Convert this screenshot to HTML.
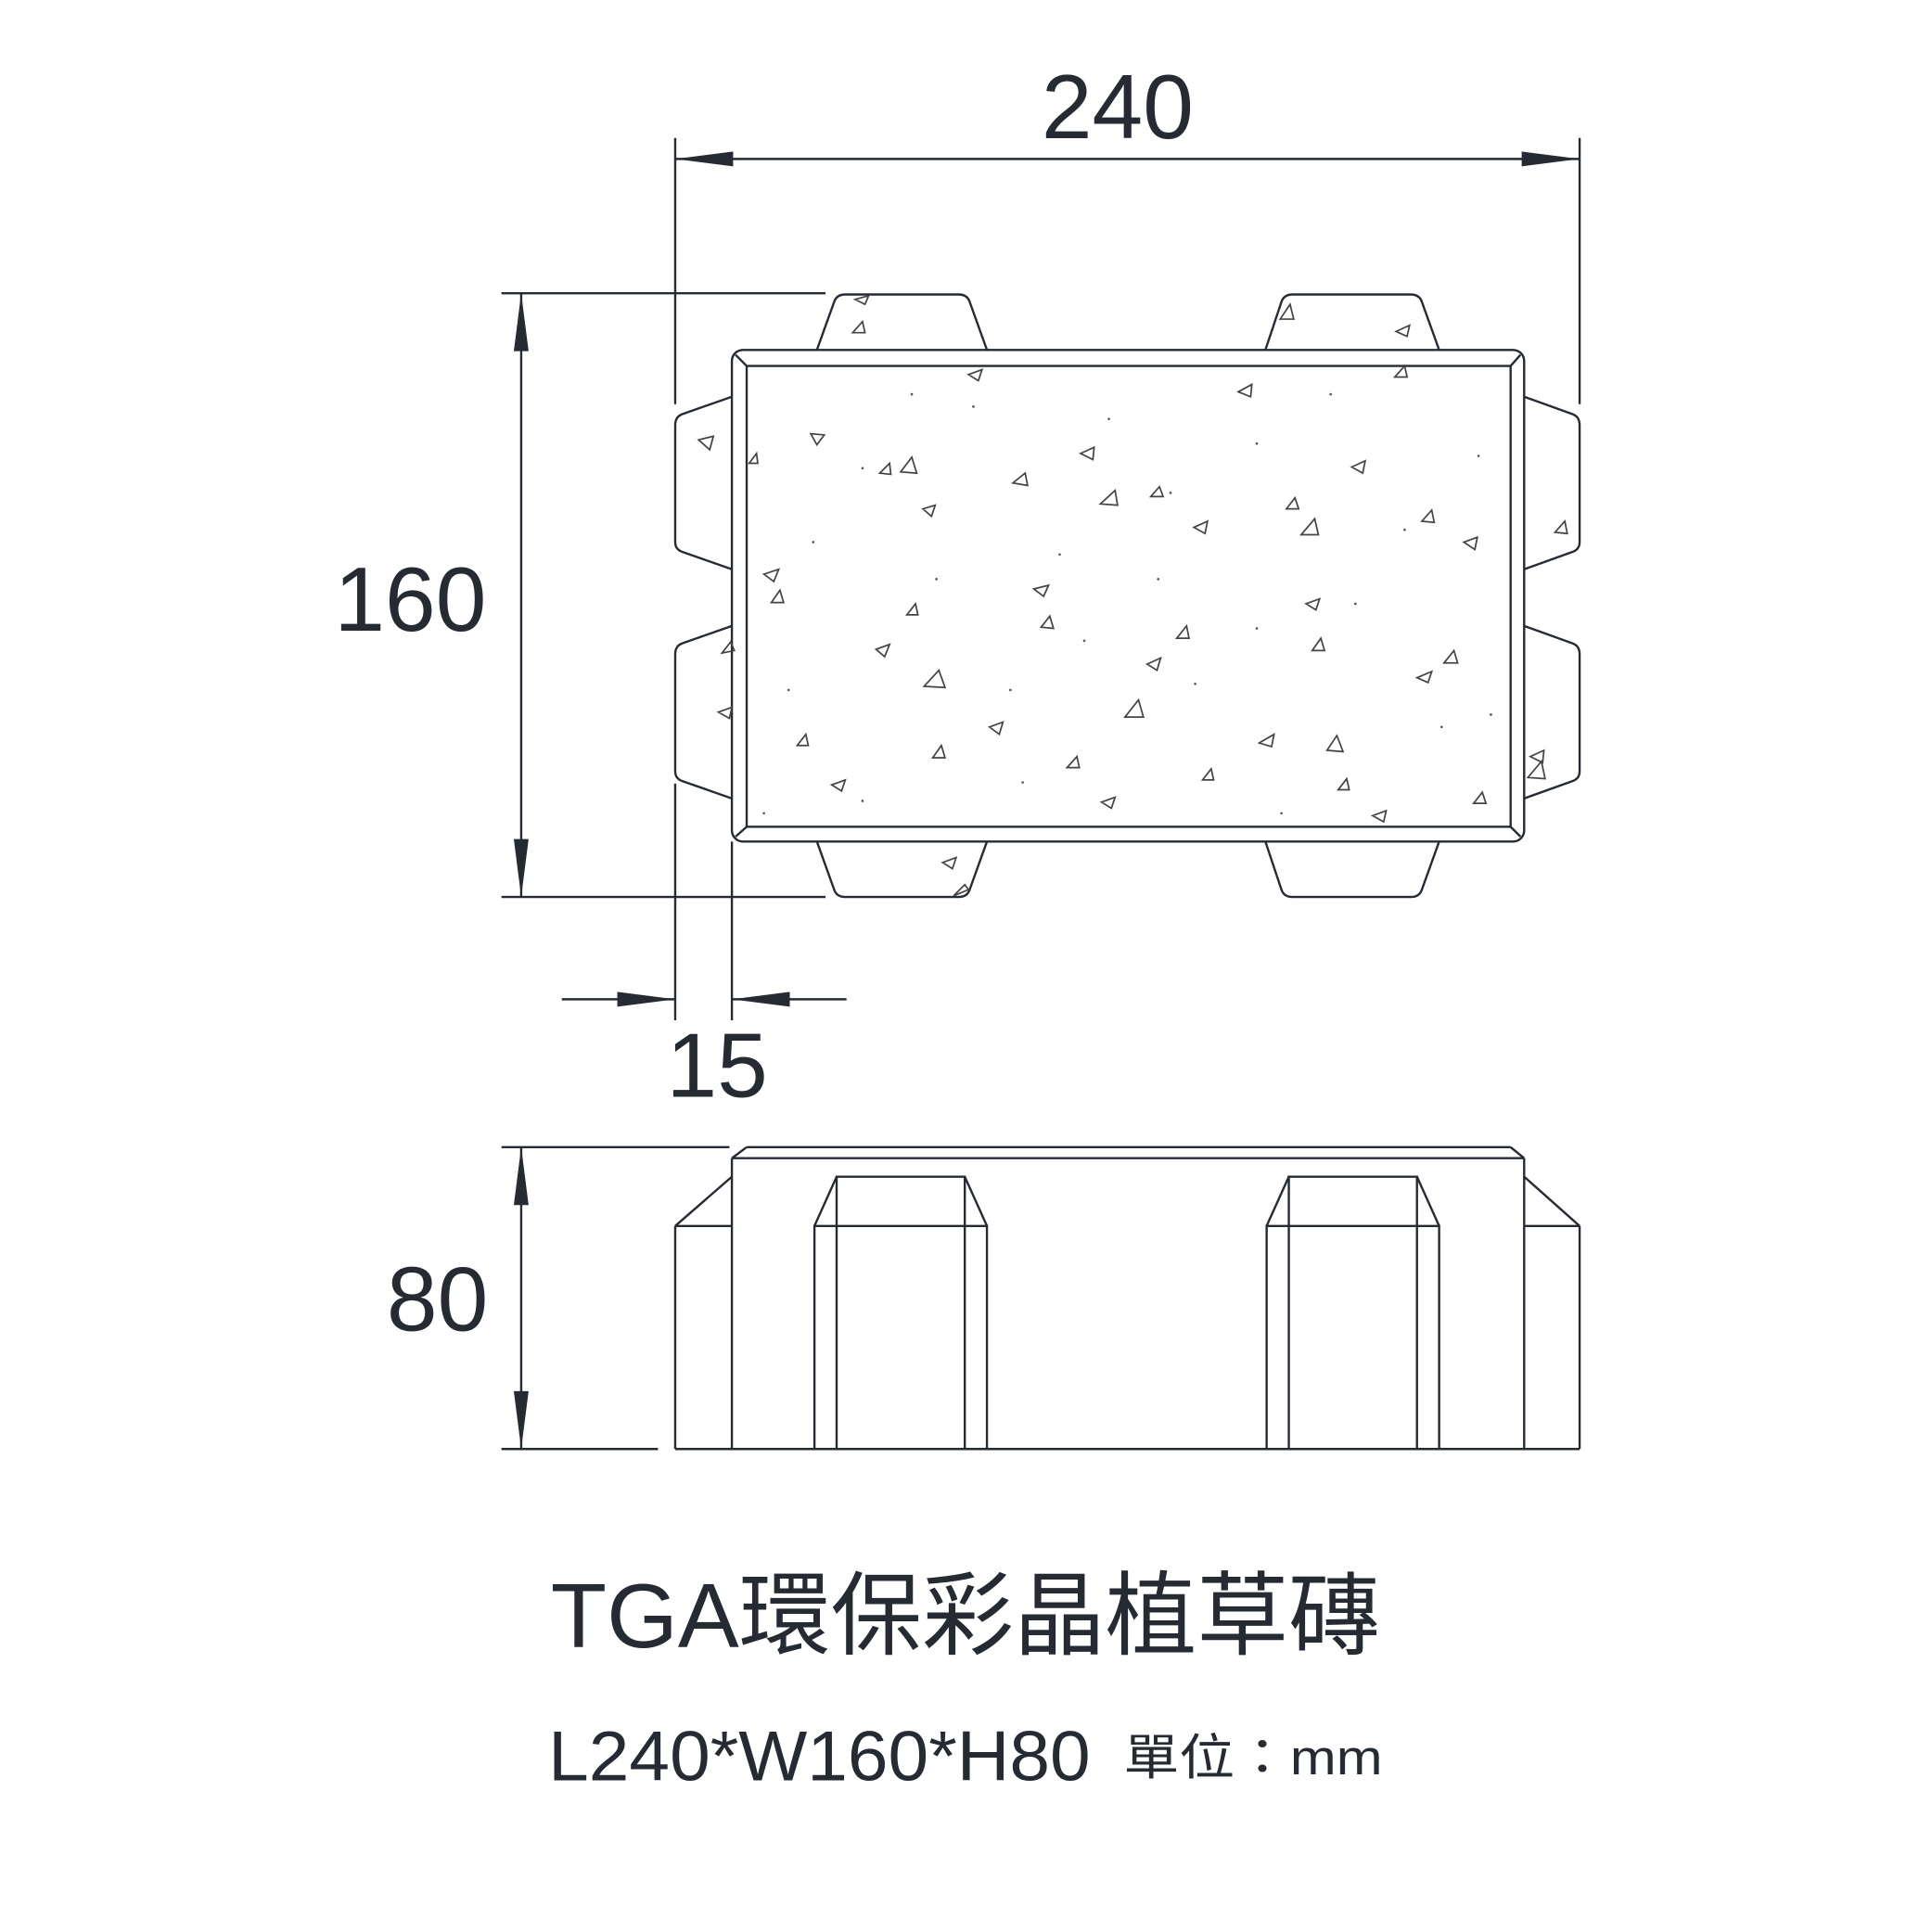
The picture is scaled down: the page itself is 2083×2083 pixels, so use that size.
<!DOCTYPE html>
<html><head><meta charset="utf-8"><style>
html,body{margin:0;padding:0;background:#fff;}
svg{display:block;}
</style></head><body>
<svg width="2083" height="2083" viewBox="0 0 1568 1568" xmlns="http://www.w3.org/2000/svg">
<g fill="none" stroke="#262b33" stroke-width="1.8">
<line x1="548" y1="112" x2="548" y2="328"/>
<line x1="1282" y1="112" x2="1282" y2="328"/>
<line x1="548" y1="129" x2="1282" y2="129"/>
<line x1="407" y1="238" x2="670" y2="238"/>
<line x1="407" y1="728" x2="670" y2="728"/>
<line x1="423" y1="238" x2="423" y2="728"/>
<line x1="548" y1="636" x2="548" y2="828"/>
<line x1="594" y1="683" x2="594" y2="828"/>
<line x1="456" y1="811" x2="548" y2="811"/>
<line x1="594" y1="811" x2="687" y2="811"/>
<line x1="407" y1="931" x2="592" y2="931"/>
<line x1="407" y1="1176" x2="534" y2="1176"/>
<line x1="423" y1="931" x2="423" y2="1176"/>

<rect x="594" y="284" width="643" height="399" rx="9" fill="#fff"/>
<rect x="606" y="297" width="620" height="374"/>
<line x1="597" y1="288" x2="606" y2="297"/><line x1="1234" y1="288" x2="1226" y2="297"/>
<line x1="597" y1="679" x2="606" y2="671"/><line x1="1234" y1="679" x2="1226" y2="671"/>
<path d="M663 284 L677 245 Q679 239 686 239 L778 239 Q785 239 787 245 L801 284"/>
<path d="M1027 284 L1040 245 Q1042 239 1049 239 L1145 239 Q1152 239 1154 245 L1168 284"/>
<path d="M663 683 L677 722 Q679 728 686 728 L778 728 Q785 728 787 722 L801 683"/>
<path d="M1027 683 L1040 722 Q1042 728 1049 728 L1145 728 Q1152 728 1154 722 L1168 683"/>
<path d="M594 322 L554 336 Q548 338 548 345 L548 440 Q548 446 554 448 L594 462"/>
<path d="M594 508 L554 522 Q548 524 548 531 L548 626 Q548 632 554 634 L594 648"/>
<path d="M1237 322 L1276 336 Q1282 338 1282 345 L1282 440 Q1282 446 1276 448 L1237 462"/>
<path d="M1237 508 L1276 522 Q1282 524 1282 531 L1282 626 Q1282 632 1276 634 L1237 648"/>

<line x1="606" y1="931" x2="1226" y2="931"/>
<line x1="594" y1="940" x2="1237" y2="940"/>
<line x1="594" y1="940" x2="606" y2="931"/>
<line x1="1237" y1="940" x2="1226" y2="931"/>
<line x1="548" y1="1176" x2="1282" y2="1176"/>
<line x1="548" y1="995" x2="548" y2="1176"/>
<line x1="1282" y1="995" x2="1282" y2="1176"/>
<line x1="594" y1="940" x2="594" y2="1176"/>
<line x1="1237" y1="940" x2="1237" y2="1176"/>
<line x1="548" y1="995" x2="594" y2="995"/>
<line x1="1237" y1="995" x2="1282" y2="995"/>
<line x1="548" y1="995" x2="594" y2="955"/>
<line x1="1282" y1="995" x2="1237" y2="955"/>
<path d="M661 1176 L661 995 L801 995 L801 1176"/>
<path d="M679 1176 L679 955 L783 955 L783 1176"/>
<line x1="661" y1="995" x2="679" y2="955"/><line x1="801" y1="995" x2="783" y2="955"/>
<path d="M1028 1176 L1028 995 L1168 995 L1168 1176"/>
<path d="M1046 1176 L1046 955 L1150 955 L1150 1176"/>
<line x1="1028" y1="995" x2="1046" y2="955"/><line x1="1168" y1="995" x2="1150" y2="955"/>
</g>
<g fill="#262b33">
<polygon points="548,129 595,123 595,135"/>
<polygon points="1282,129 1235,123 1235,135"/>
<polygon points="423,238 417,285 429,285"/>
<polygon points="423,728 417,681 429,681"/>
<polygon points="548,811 501,805 501,817"/>
<polygon points="594,811 641,805 641,817"/>
<polygon points="423,931 417,978 429,978"/>
<polygon points="423,1176 417,1129 429,1129"/>
</g>
<g fill="none" stroke="#444" stroke-width="1.3">
<path d="M567 357l12-3-3 11z M658 352l11 1-6 8z M714 384l8-8 1 9z M731 383l9-12 4 13z M749 413l10-3-3 9z M822 392l10-8 2 10z M877 368l11-5-1 10z M893 409l12-11 2 12z M934 403l7-8 3 8z M969 428l11-5-2 10z M1044 413l7-9 3 9z M1056 434l11-13 3 13z M1097 379l11-5-2 10z M1154 423l8-9 2 10z M1188 440l11-4-2 10z M1262 432l8-9 2 10z M620 466l12-4-4 10z M626 489l7-10 3 10z M736 499l7-9 2 9z M711 527l11-4-4 10z M750 557l12-13 5 14z M839 478l12-3-4 9z M845 509l7-9 3 10z M955 518l8-10 2 10z M931 539l11-5-3 10z M913 582l11-14 4 14z M1060 490l11-4-3 9z M1065 528l7-10 3 10z M1150 550l12-5-3 9z M1172 538l8-10 3 10z M1022 603l12-7-2 10z M1077 609l8-12 5 13z M1086 641l7-9 2 9z M1114 662l11-4-2 9z M1196 652l7-9 3 9z M1240 631l11-13 3 14z M1242 614l11-5-1 10z M647 605l7-9 2 9z M675 637l11-4-3 9z M757 615l7-10 3 10z M803 590l11-4-3 10z M866 623l8-9 2 9z M894 651l11-4-3 9z M976 633l7-9 2 9z M786 304l11-4-3 9z M1005 318l11-6-1 10z M1132 306l8-9 2 9z M1133 269l11-5-2 9z M694 243l11-3-3 7z M692 270l8-9 2 9z M1039 259l8-12 3 12z M765 700l11-4-3 9z M774 727l9-9 3 4z M583 578l11-4-2 9z M586 530l7-9 3 7z M608 376l6-8 1 8z"/>
</g>
<g fill="#555">
<circle cx="700" cy="380" r="1"/><circle cx="790" cy="330" r="1"/><circle cx="860" cy="450" r="1"/><circle cx="940" cy="470" r="1"/><circle cx="1020" cy="360" r="1"/><circle cx="1100" cy="490" r="1"/><circle cx="1170" cy="590" r="1"/><circle cx="640" cy="560" r="1"/><circle cx="700" cy="650" r="1"/><circle cx="830" cy="635" r="1"/><circle cx="970" cy="555" r="1"/><circle cx="1040" cy="660" r="1"/><circle cx="1210" cy="580" r="1"/><circle cx="660" cy="440" r="1"/><circle cx="900" cy="340" r="1"/><circle cx="1080" cy="320" r="1"/><circle cx="1140" cy="430" r="1"/><circle cx="760" cy="470" r="1"/><circle cx="880" cy="520" r="1"/><circle cx="620" cy="660" r="1"/><circle cx="1020" cy="510" r="1"/><circle cx="1200" cy="370" r="1"/><circle cx="950" cy="400" r="1"/><circle cx="740" cy="320" r="1"/><circle cx="820" cy="560" r="1"/>
</g>
<g fill="#262b33" font-family="'Liberation Sans','Noto Sans CJK TC',sans-serif">
<text x="907" y="112" font-size="74" text-anchor="middle">240</text>
<text x="333" y="512" font-size="74" text-anchor="middle">160</text>
<text x="582" y="890" font-size="74" text-anchor="middle">15</text>
<text x="355" y="1080" font-size="74" text-anchor="middle">80</text>
<text x="447" y="1337" font-size="74" textLength="673" lengthAdjust="spacingAndGlyphs">TGA環保彩晶植草磚</text>
<text x="445" y="1445" font-size="57" textLength="440" lengthAdjust="spacingAndGlyphs">L240*W160*H80</text>
<text x="912" y="1440" font-size="40" textLength="210" lengthAdjust="spacingAndGlyphs">單位：mm</text>
</g>
</svg>
</body></html>
